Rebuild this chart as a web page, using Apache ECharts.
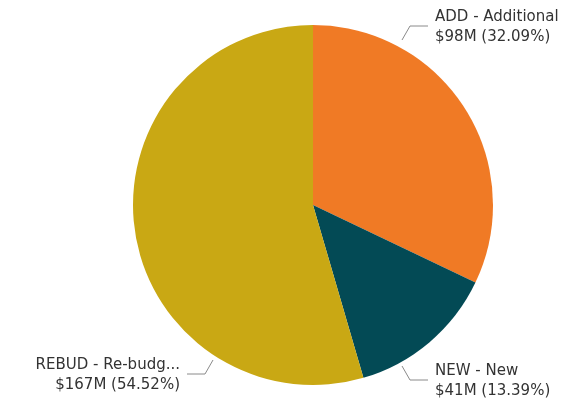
<!DOCTYPE html>
<html>
<head>
<meta charset="utf-8">
<script src="https://cdn.jsdelivr.net/npm/echarts@6/dist/echarts.min.js"></script>
<style>
  html, body { margin: 0; padding: 0; background: #fff; }
  #chart { width: 584px; height: 401px; }
</style>
</head>
<body>
<div id="chart"></div>
<script>
// budget type breakdown ($M)
const categories = ['ADD - Additional', 'NEW - New', 'REBUD - Re-budg...'];
const amounts = [98.07, 40.92, 166.61];
const colors = ['#F07A25', '#034A55', '#C9A814'];

// where Power BI put each label (anchor x/y, alignment, which way the leader line bends)
const labelSpots = [
    { x: 435, y: 27, align: 'left', bend: 1 },
    { x: 435, y: 381, align: 'left', bend: -1 },
    { x: 180, y: 375, align: 'right', bend: -1 }
];

const el = document.getElementById('chart');
const chart = echarts.init(el, null, { renderer: 'canvas' });

const option = {
    backgroundColor: '#fff',
    animation: false,
    series: [{
        type: 'pie',
        center: [313, 205],
        radius: 180,
        startAngle: 90,
        clockwise: true,
        data: categories.map((name, i) => ({
            name,
            value: amounts[i],
            itemStyle: { color: colors[i] }
        })),
        label: {
            show: true,
            position: 'outside',
            overflow: 'none',
            color: '#333333',
            fontFamily: 'DejaVu Sans',
            fontSize: 15,
            lineHeight: 20,
            formatter: (p) => p.name + '\n$' + Math.round(p.value) + 'M (' + p.percent.toFixed(2) + '%)'
        },
        labelLine: {
            show: true,
            lineStyle: { color: '#8a8a8a', width: 1 }
        },
        labelLayout: (params) => {
            const s = labelSpots[params.dataIndex];
            const dir = s.align === 'left' ? 1 : -1;
            const ex = s.x - dir * 7;
            const mx = ex - dir * 18;
            const ly = s.y - 1;
            return {
                x: s.x,
                y: s.y,
                align: s.align,
                verticalAlign: 'middle',
                labelLinePoints: [[mx - dir * 8, ly + s.bend * 14], [mx, ly], [ex, ly]]
            };
        },
        emphasis: { disabled: true }
    }]
};

chart.setOption(option);
window.addEventListener('resize', () => chart.resize());
</script>
</body>
</html>
